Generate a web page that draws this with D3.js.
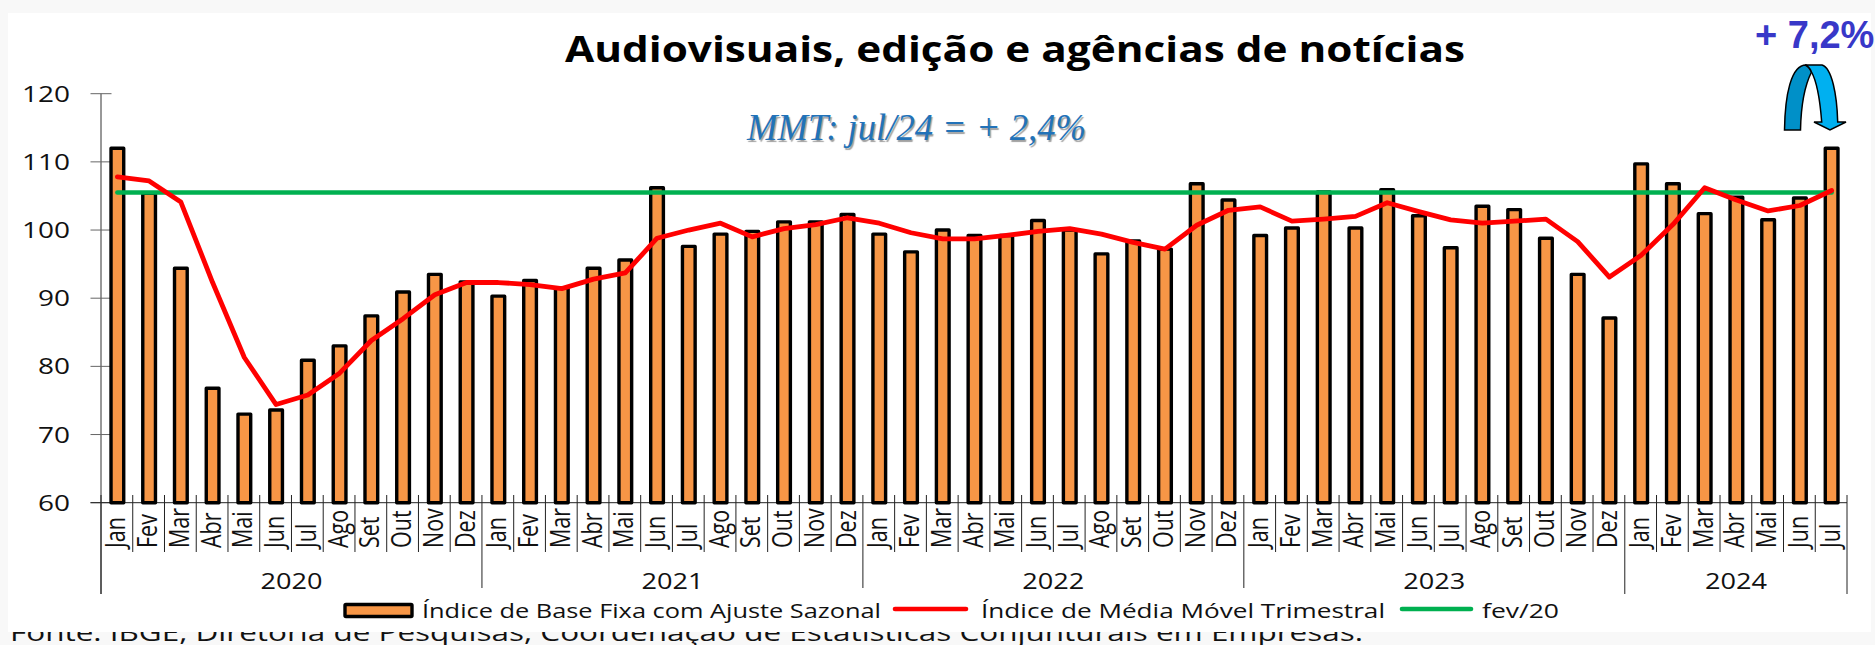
<!DOCTYPE html>
<html><head><meta charset="utf-8">
<script src="https://cdn.jsdelivr.net/npm/d3@7/dist/d3.min.js"></script>
<style>html,body{margin:0;padding:0;background:#f8f8f8;overflow:hidden}svg{display:block}text{font-family:"Open Sans",sans-serif;fill:#111}</style>
</head><body><svg id="c" width="1875" height="645"></svg>
<script>
const monthNames = ["Jan","Fev","Mar","Abr","Mai","Jun","Jul","Ago","Set","Out","Nov","Dez"];
const years = [2020,2021,2022,2023,2024];
const monthCounts = [12,12,12,12,7];
const baseFixa = [112,105.4,94.4,76.8,73,73.6,80.9,83,87.4,90.9,93.5,92.4,
 90.3,92.6,91.5,94.4,95.6,106.2,97.6,99.4,99.8,101.2,101.2,102.3,
 99.4,96.8,100,99.2,99.2,101.4,100,96.5,98.4,97.2,106.8,104.4,
 99.2,100.3,105.6,100.3,105.9,102.1,97.4,103.5,103,98.8,93.5,87.1,
 109.7,106.8,102.4,104.8,101.5,104.7,112];
const mediaMovel = [107.8,107.2,104.1,92.3,81.3,74.4,75.8,79,83.8,87,90.5,92.3,
 92.3,92,91.4,92.8,93.7,98.8,100,101,99,100.2,100.8,101.8,
 101,99.6,98.7,98.7,99.2,99.8,100.2,99.4,98.2,97.2,100.7,102.9,
 103.4,101.3,101.6,102,104,102.7,101.5,101,101.3,101.6,98.3,93.1,
 96.3,100.8,106.2,104.4,102.8,103.6,105.8];
const fev20 = baseFixa.map(() => 105.5);
const yTicks = [60,70,80,90,100,110,120];
const titleText = "Audiovisuais, edição e agências de notícias";
const mmtText = "MMT: jul/24 = + 2,4%";
const changeText = "+ 7,2%";
const legendLabels = ["Índice de Base Fixa com Ajuste Sazonal","Índice de Média Móvel Trimestral","fev/20"];
const sourceText = "Fonte: IBGE, Diretoria de Pesquisas, Coordenação de Estatísticas Conjunturais em Empresas.";

const svg = d3.select("#c");
const monthLabels = monthCounts.flatMap(n => monthNames.slice(0,n));
const x = d3.scaleBand().domain(d3.range(baseFixa.length)).range([101,1847]).paddingInner(0.6).paddingOuter(0.3);
const y = d3.scaleLinear().domain([60,120]).range([502.7,93.7]);
const cx = i => x(i)+x.bandwidth()/2+0.5;
const edge = i => 101 + i*x.step();

// source line sits behind the white panel, which clips its top
svg.append("text").attr("x",10).attr("y",641).attr("font-size",23).attr("textLength",1353).attr("lengthAdjust","spacingAndGlyphs").text(sourceText);
svg.append("rect").attr("x",8).attr("y",13).attr("width",1863).attr("height",619).attr("fill","#fff");

// y axis
const yAxis = svg.append("g").attr("transform","translate(101,0)").call(d3.axisLeft(y).tickValues(yTicks).tickSize(0).tickFormat(""));
yAxis.select(".domain").remove();
svg.append("line").attr("x1",101).attr("x2",101).attr("y1",y(120)).attr("y2",594).attr("stroke","#333");
yTicks.forEach(t=>{
  svg.append("line").attr("x1",90.5).attr("x2",111.5).attr("y1",y(t)).attr("y2",y(t)).attr("stroke","#666");
  svg.append("text").attr("x",70-(String(t).length*16)).attr("y",y(t)+8).attr("font-size",22)
    .attr("textLength",String(t).length*16).attr("lengthAdjust","spacingAndGlyphs").text(t);
});
// x axis
svg.append("line").attr("x1",90.5).attr("x2",1847).attr("y1",y(60)).attr("y2",y(60)).attr("stroke","#222");
let idx=0;
const yearStarts=[];
monthCounts.forEach(n=>{yearStarts.push(idx);idx+=n;});
d3.range(baseFixa.length+1).forEach(i=>{
  const isYear = yearStarts.includes(i)||i===baseFixa.length;
  const bottom = isYear ? ((i===48||i===0||i===baseFixa.length)?594:588) : 552;
  svg.append("line").attr("x1",edge(i)).attr("x2",edge(i)).attr("y1",495).attr("y2",bottom).attr("stroke","#222");
});
monthLabels.forEach((m,i)=>{
  svg.append("text").attr("transform",`translate(${cx(i)+8},548) scale(1.3,1) rotate(-90)`)
    .attr("font-size",21.5).text(m);
});
years.forEach((yr,k)=>{
  const c=(edge(yearStarts[k])+edge(yearStarts[k]+monthCounts[k]))/2;
  svg.append("text").attr("x",c-31).attr("y",589).attr("font-size",21).attr("textLength",62).attr("lengthAdjust","spacingAndGlyphs").text(yr);
});

// bars and lines
svg.append("g").selectAll("rect").data(baseFixa).join("rect")
  .attr("x",(d,i)=>x(i)+0.5).attr("y",d=>y(d)).attr("width",x.bandwidth()).attr("height",d=>y(60)-y(d))
  .attr("fill","#f79646").attr("stroke","#000").attr("stroke-width",3.4).attr("stroke-linejoin","round");
const line=d3.line().x((d,i)=>cx(i)).y(d=>y(d));
svg.append("path").attr("d",line(fev20)).attr("fill","none").attr("stroke","#00b050").attr("stroke-width",4.6).attr("stroke-linecap","round");
svg.append("path").attr("d",line(mediaMovel)).attr("fill","none").attr("stroke","#ff0000").attr("stroke-width",4.8).attr("stroke-linecap","round").attr("stroke-linejoin","round");

// title and annotations
svg.append("text").attr("x",565).attr("y",62).attr("font-size",36).attr("font-weight",700)
  .style("font-family","'Open Sans',sans-serif").style("fill","#000").attr("textLength",900).attr("lengthAdjust","spacingAndGlyphs").text(titleText);
svg.append("text").attr("x",747).attr("y",140).attr("font-size",38).attr("font-style","italic")
  .style("font-family","'Liberation Serif',serif").style("fill","#2272b8").style("text-shadow","1.5px 1.5px 1px #a0a0a0")
  .attr("textLength",339).attr("lengthAdjust","spacingAndGlyphs").text(mmtText);
svg.append("text").attr("x",1755).attr("y",48).attr("font-size",38).attr("font-weight",700)
  .style("font-family","'Liberation Sans',sans-serif").style("fill","#3838c8").text(changeText);

// curved arrow
svg.append("path").attr("d","M1784.5,130 C1785,95 1791,65 1806,65 C1808,66 1810,69 1811.5,72 C1805,85 1801,105 1800.5,130 Z")
  .attr("fill","#0090c8").attr("stroke","#000").attr("stroke-width",1.5);
svg.append("path").attr("d","M1805,65 L1822,65 C1832,68 1837,95 1837.7,122 L1846,122 L1830,130 L1814,122 L1821.7,122 C1820,100 1816,80 1811.5,72 C1810,68 1808,66 1805,65 Z")
  .attr("fill","#00b0f0").attr("stroke","#000").attr("stroke-width",1.5);

// legend
svg.append("rect").attr("x",345).attr("y",604.5).attr("width",67).attr("height",12).attr("fill","#f79646").attr("stroke","#000").attr("stroke-width",3.4).attr("rx",1);
svg.append("text").attr("x",422).attr("y",618).attr("font-size",20).attr("textLength",459).attr("lengthAdjust","spacingAndGlyphs").text(legendLabels[0]);
svg.append("line").attr("x1",895).attr("x2",966).attr("y1",609).attr("y2",609).attr("stroke","#ff0000").attr("stroke-width",4.6).attr("stroke-linecap","round");
svg.append("text").attr("x",981).attr("y",618).attr("font-size",20).attr("textLength",404).attr("lengthAdjust","spacingAndGlyphs").text(legendLabels[1]);
svg.append("line").attr("x1",1402).attr("x2",1471).attr("y1",609).attr("y2",609).attr("stroke","#00b050").attr("stroke-width",4.6).attr("stroke-linecap","round");
svg.append("text").attr("x",1482).attr("y",618).attr("font-size",20).attr("textLength",77).attr("lengthAdjust","spacingAndGlyphs").text(legendLabels[2]);
</script></body></html>
